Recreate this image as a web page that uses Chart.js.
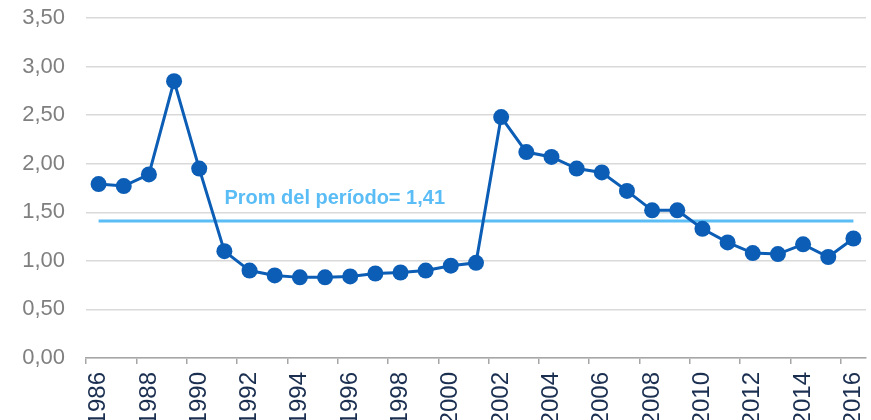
<!DOCTYPE html>
<html>
<head>
<meta charset="utf-8">
<script src="https://cdn.jsdelivr.net/npm/chart.js@4/dist/chart.umd.min.js"></script>
<style>
    html, body { margin: 0; padding: 0; background: #fff; }
    #wrap { width: 871px; height: 420px; }
</style>
</head>
<body>
<div id="wrap"><canvas id="chart"></canvas></div>
<script>
const years = ['1986', '1987', '1988', '1989', '1990', '1991', '1992', '1993', '1994', '1995',
    '1996', '1997', '1998', '1999', '2000', '2001', '2002', '2003', '2004', '2005',
    '2006', '2007', '2008', '2009', '2010', '2011', '2012', '2013', '2014', '2015', '2016'];
const values = [1.79, 1.77, 1.89, 2.85, 1.95, 1.10, 0.90, 0.85, 0.83, 0.83,
    0.84, 0.87, 0.88, 0.90, 0.95, 0.98, 2.48, 2.12, 2.07, 1.95,
    1.91, 1.72, 1.52, 1.52, 1.33, 1.19, 1.08, 1.07, 1.17, 1.04, 1.23];
const promedio = 1.41;
const promLabel = 'Prom del período= 1,41';
const promData = years.map(() => promedio);

const fontFamily = "'Liberation Sans', Arial, sans-serif";

/* text over the average line */
const promText = {
    id: 'promText',
    afterDatasetsDraw(chart) {
        const ctx = chart.ctx;
        const x = chart.scales.x.getPixelForValue(5);
        const y = chart.scales.y.getPixelForValue(promedio) - 17;
        ctx.save();
        ctx.font = 'bold 20px ' + fontFamily;
        ctx.fillStyle = '#5bbdf6';
        ctx.textAlign = 'left';
        ctx.textBaseline = 'alphabetic';
        ctx.fillText(promLabel, x, y);
        ctx.restore();
    }
};

const ctx = document.getElementById('chart').getContext('2d');
new Chart(ctx, {
    type: 'line',
    data: {
        labels: years,
        datasets: [{
            data: values,
            borderColor: '#0b5db5',
            backgroundColor: '#0b5db5',
            borderWidth: 3,
            pointRadius: 8,
            pointHoverRadius: 8,
            pointBorderWidth: 0,
            fill: false,
            tension: 0,
            clip: false,
            order: 1
        }, {
            data: promData,
            borderColor: '#5bbdf6',
            borderWidth: 3,
            pointRadius: 0,
            fill: false,
            order: 2
        }]
    },
    options: {
        responsive: true,
        maintainAspectRatio: false,
        animation: false,
        layout: {
            autoPadding: false,
            padding: { top: 18, right: 5, left: 0, bottom: 0 }
        },
        plugins: {
            legend: { display: false },
            tooltip: { enabled: false }
        },
        scales: {
            x: {
                offset: true,
                afterFit: scale => {
                    scale.height = 62;
                    scale.paddingLeft = 0;
                    scale.paddingRight = 0;
                },
                grid: {
                    offset: true,
                    drawOnChartArea: false,
                    tickLength: 6,
                    lineWidth: 1.5,
                    color: c => (c.index % 2 === 0 ? '#a6a6a6' : 'rgba(0,0,0,0)')
                },
                border: { display: true, color: '#a6a6a6', width: 1.5 },
                ticks: {
                    autoSkip: false,
                    minRotation: 90,
                    maxRotation: 90,
                    padding: 8,
                    color: '#1b2f50',
                    font: { family: fontFamily, size: 24 },
                    callback: function (val, i) {
                        return i % 2 === 0 ? this.getLabelForValue(val) : '';
                    }
                }
            },
            y: {
                min: 0,
                max: 3.5,
                afterFit: scale => {
                    scale.width = 86;
                    scale.paddingTop = 0;
                    scale.paddingBottom = 0;
                },
                grid: {
                    color: '#d9d9d9',
                    lineWidth: 1.5,
                    drawTicks: false
                },
                border: { display: false },
                ticks: {
                    stepSize: 0.5,
                    padding: 21,
                    color: '#7f7f7f',
                    font: { family: fontFamily, size: 22 },
                    callback: v => v.toFixed(2).replace('.', ',')
                }
            }
        }
    },
    plugins: [promText]
});
</script>
</body>
</html>
